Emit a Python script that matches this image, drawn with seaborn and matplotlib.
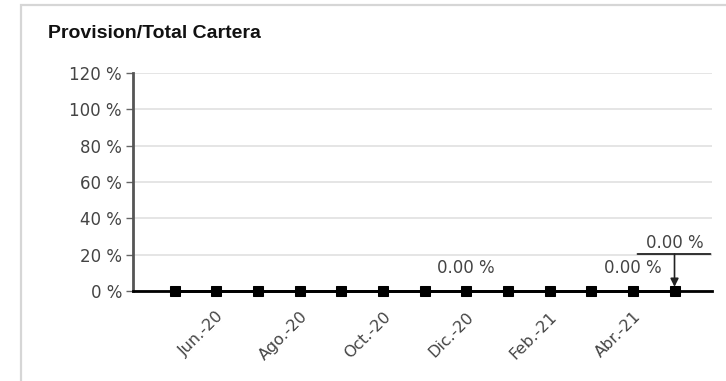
import matplotlib
matplotlib.use("Agg")
import matplotlib.pyplot as plt
import matplotlib.transforms as mtransforms
from matplotlib.patches import Rectangle
import seaborn as sns
import pandas as pd

# Monthly ratio of provisions to total portfolio (percent)
months = ["May.-20", "Jun.-20", "Jul.-20", "Ago.-20", "Sep.-20", "Oct.-20", "Nov.-20",
          "Dic.-20", "Ene.-21", "Feb.-21", "Mar.-21", "Abr.-21", "May.-21"]
provision_pct = [0.0, 0.0, 0.0, 0.0, 0.0, 0.0, 0.0, 0.0, 0.0, 0.0, 0.0, 0.0, 0.0]
labelled_points = [7, 11, 12]
y_ticks = [0, 20, 40, 60, 80, 100, 120]

sns.set_theme(style="white")
plt.rcParams["font.family"] = ["DejaVu Sans"]

df = pd.DataFrame({"idx": range(len(months)), "mes": months, "valor": provision_pct})

fig = plt.figure(figsize=(7.26, 3.81), dpi=100)
fig.patch.set_facecolor("white")

# light card border
fig.patches.append(Rectangle((21 / 726, -0.05), 1.1, 1 - 5 / 381 + 0.05,
                             transform=fig.transFigure, fill=False,
                             edgecolor="#d6d6d6", linewidth=1.6, zorder=0))

fig.text(48 / 726, 1 - 33 / 381, "Provision/Total Cartera", fontsize=14,
         fontweight="bold", family="Liberation Sans", color="#111111",
         ha="left", va="center")

ax = fig.add_axes([133 / 726, 1 - 291 / 381, (712 - 133) / 726, (291 - 73) / 381])
ax.set_facecolor("white")

sns.lineplot(data=df, x="idx", y="valor", ax=ax, color="black", linewidth=2,
             marker="s", markersize=7, markeredgecolor="black",
             markerfacecolor="black", clip_on=False, zorder=5)

ax.set_xlim(-1, 12.9)
ax.set_ylim(0, 120)
ax.set_yticks(y_ticks)
ax.set_yticklabels([f"{v} %" for v in y_ticks], fontsize=12, color="#444444")
ax.yaxis.grid(True, color="#e5e5e5", linewidth=1.4)
ax.set_axisbelow(True)

tick_idx = list(range(1, len(months), 2))
ax.set_xticks(tick_idx)
ax.set_xticklabels([months[i] for i in tick_idx], rotation=45, ha="right",
                   rotation_mode="anchor", fontsize=11.5, color="#444444")
ax.tick_params(axis="x", length=0, pad=13)
ax.tick_params(axis="y", length=5, width=1, color="#666666", left=True, pad=3)
ax.set_xlabel("")
ax.set_ylabel("")

for side in ["top", "right"]:
    ax.spines[side].set_visible(False)
ax.spines["left"].set_color("#555555")
ax.spines["left"].set_linewidth(2)
ax.spines["bottom"].set_color("black")
ax.spines["bottom"].set_linewidth(2)

# data labels
label_kw = dict(fontsize=12, color="#444444", ha="center", va="center")
for i in labelled_points[:-1]:
    ax.annotate(f"{provision_pct[i]:.2f} %", xy=(i, provision_pct[i]),
                xytext=(0, 23), textcoords="offset pixels", **label_kw)

last = labelled_points[-1]
ax.annotate(f"{provision_pct[last]:.2f} %", xy=(last, provision_pct[last]),
            xytext=(0, 48), textcoords="offset pixels", annotation_clip=False,
            **label_kw)
left_end = mtransforms.offset_copy(ax.transData, fig=fig, x=-37, y=37, units="dots")
right_end = mtransforms.offset_copy(ax.transData, fig=fig, x=36, y=37, units="dots")
ax.annotate("", xy=(last, provision_pct[last]), xycoords=left_end,
            xytext=(last, provision_pct[last]), textcoords=right_end,
            arrowprops=dict(arrowstyle="-", color="#222222", lw=1.3,
                            shrinkA=0, shrinkB=0), annotation_clip=False)
ax.annotate("", xy=(last, provision_pct[last]), xytext=(0, 37),
            textcoords="offset pixels",
            arrowprops=dict(arrowstyle="-|>,head_length=0.4,head_width=0.2",
                            color="#222222", lw=1.2, shrinkA=0, shrinkB=3),
            annotation_clip=False)

fig.savefig("out.png", dpi=100, facecolor="white")
